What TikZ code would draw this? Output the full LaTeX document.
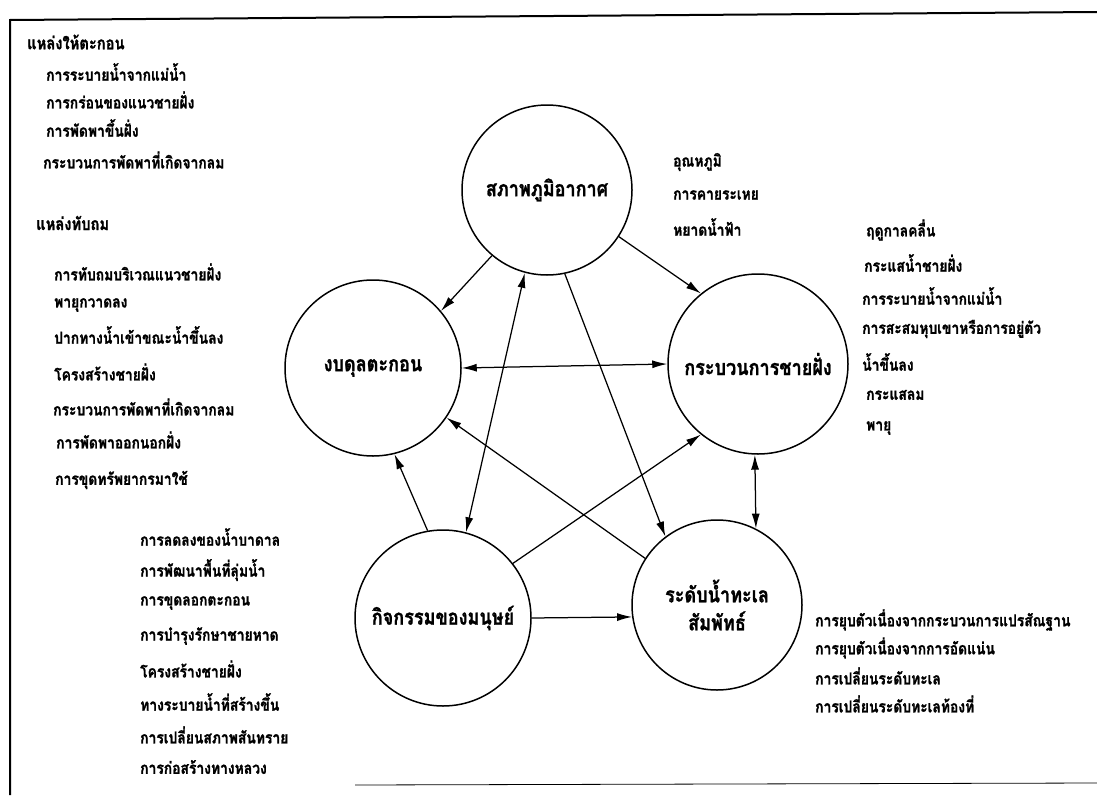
\documentclass[tikz,border=0pt]{standalone}
\usepackage{fontspec}
\newfontfamily\thai[Script=Thai,FakeStretch=0.84,BoldFeatures={FakeBold=1.2}]{Loma}
\usetikzlibrary{arrows.meta}
\begin{document}
\begin{tikzpicture}[x=1pt,y=-1pt,
  every node/.style={font=\thai\bfseries\fontsize{16.5}{18}\selectfont, inner sep=0pt},
  itm/.style={anchor=west},
  hd/.style={anchor=west,font=\thai\bfseries\fontsize{17.5}{19}\selectfont},
  circ/.style={draw, circle, line width=1.5pt, minimum size=#1, align=center,
    font=\thai\bfseries\fontsize{21.5}{28}\selectfont},
  con/.style={line width=1.25pt, -{Latex[length=15pt,width=8pt]}},
  dcon/.style={line width=1.25pt, {Latex[length=15pt,width=8pt]}-{Latex[length=15pt,width=8pt]}},
  frame/.style={line width=2pt}
]
\useasboundingbox (0,0) rectangle (1097,795);
% frame
\draw[frame] (10,795) -- (10,20) -- (1097,12);
\draw[line width=0.8pt] (355,785) -- (1097,783);

% circles
\node[circ=170pt] (top) at (547,190) {สภาพภูมิอากาศ};
\node[circ=176pt] (left) at (373,368) {งบดุลตะกอน};
\node[circ=180pt] (right) at (758,364) {กระบวนการชายฝั่ง};
\node[circ=176pt] (bl) at (443,618) {กิจกรรมของมนุษย์};
\node[circ=170pt] (br) at (717,605) {ระดับน้ำทะเล\\สัมพัทธ์};

% connectors
\draw[con] (top.230) -- (left.40);
\draw[con] (top.327) -- (right.129);
\draw[dcon] (top.255) -- (bl.75);
\draw[con] (top.282) -- (br.127);
\draw[dcon] (left.east) -- (right.west);
\draw[con] (bl.100) -- (left.284);
\draw[con] (br.147) -- (left.326);
\draw[con] (bl.38) -- (right.231);
\draw[dcon] (right.268) -- (br.63);
\draw[con] (bl.east) -- (br.188);

% sources
\node[hd] (s1) at (27,42) {แหล่งให้ตะกอน};
\node[itm] (s2) at (46,72) {การระบายน้ำจากแม่น้ำ};
\node[itm] (s3) at (46,100) {การกร่อนของแนวชายฝั่ง};
\node[itm] (s4) at (46,128) {การพัดพาขึ้นฝั่ง};
\node[itm] (s5) at (43,160) {กระบวนการพัดพาที่เกิดจากลม};
% sinks
\node[hd] (k1) at (36,223) {แหล่งทับถม};
\node[itm] (k2) at (54,272) {การทับถมบริเวณแนวชายฝั่ง};
\node[itm] (k3) at (54,305) {พายุกวาดลง};
\node[itm] (k4) at (54,335) {ปากทางน้ำเข้าขณะน้ำขึ้นลง};
\node[itm] (k5) at (54,372) {โครงสร้างชายฝั่ง};
\node[itm] (k6) at (53,407) {กระบวนการพัดพาที่เกิดจากลม};
\node[itm] (k7) at (56,440) {การพัดพาออกนอกฝั่ง};
\node[itm] (k8) at (55,480) {การขุดทรัพยากรมาใช้};
% human
\node[itm] (h1) at (140,537) {การลดลงของน้ำบาดาล};
\node[itm] (h2) at (140,570) {การพัฒนาพื้นที่ลุ่มน้ำ};
\node[itm] (h3) at (140,603) {การขุดลอกตะกอน};
\node[itm] (h4) at (140,636) {การบำรุงรักษาชายหาด};
\node[itm] (h5) at (140,669) {โครงสร้างชายฝั่ง};
\node[itm] (h6) at (140,702) {ทางระบายน้ำที่สร้างขึ้น};
\node[itm] (h7) at (140,735) {การเปลี่ยนสภาพสันทราย};
\node[itm] (h8) at (140,767) {การก่อสร้างทางหลวง};
% climate
\node[itm] (c1) at (673,162) {อุณหภูมิ};
\node[itm] (c2) at (673,195) {การคายระเหย};
\node[itm] (c3) at (673,227) {หยาดน้ำฟ้า};
% coastal processes
\node[itm] (p1) at (866,230) {ฤดูกาลคลื่น};
\node[itm] (p2) at (864,263) {กระแสน้ำชายฝั่ง};
\node[itm] (p3) at (862,296) {การระบายน้ำจากแม่น้ำ};
\node[itm] (p4) at (862,329) {การสะสมหุบเขาหรือการอยู่ตัว};
\node[itm] (p5) at (862,362) {น้ำขึ้นลง};
\node[itm] (p6) at (866,395) {กระแสลม};
\node[itm] (p7) at (866,428) {พายุ};
% sea level
\node[itm] (r1) at (815,620) {การยุบตัวเนื่องจากกระบวนการแปรสัณฐาน};
\node[itm] (r2) at (815,648) {การยุบตัวเนื่องจากการอัดแน่น};
\node[itm] (r3) at (815,676) {การเปลี่ยนระดับทะเล};
\node[itm] (r4) at (815,704) {การเปลี่ยนระดับทะเลท้องที่};
\end{tikzpicture}
\end{document}
